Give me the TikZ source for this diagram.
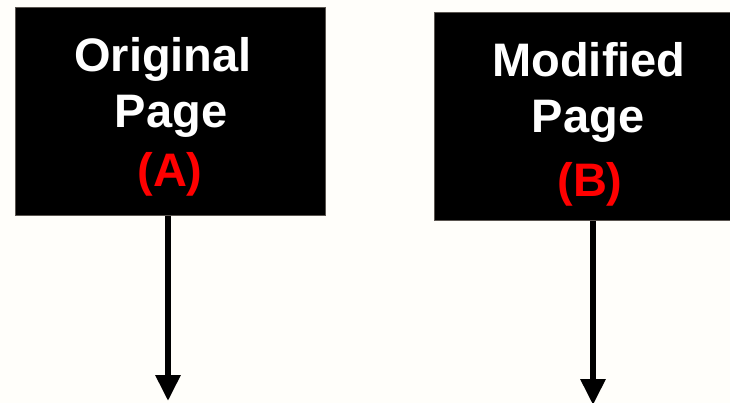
\documentclass[tikz,border=0pt]{standalone}
\usepackage{fontspec}
\setmainfont{Liberation Sans}
\usetikzlibrary{arrows.meta}
\definecolor{bg}{HTML}{FFFEFA}
\definecolor{edge}{HTML}{5A5550}
\tikzset{
  pagebox/.style={fill=black, draw=edge, line width=0.8pt, inner sep=0pt},
  wtext/.style={anchor=base, text=white, font=\fontsize{47}{56}\selectfont\bfseries, inner sep=0pt},
  rtext/.style={anchor=base, text=red, font=\fontsize{47}{56}\selectfont\bfseries, inner sep=0pt},
  flow/.style={line width=6pt, -{Triangle[width=24pt,length=26pt]}}
}
\begin{document}
\begin{tikzpicture}[x=1pt,y=-1pt]
\fill[bg] (0,0) rectangle (730,403);
\useasboundingbox (0,0) rectangle (730,403);
% boxes
\node[pagebox, minimum width=310pt, minimum height=208pt, anchor=north west] (boxA) at (15,7) {};
\node[pagebox, minimum width=296pt, minimum height=208pt, anchor=north west] (boxB) at (434,12) {};
% texts A
\node[wtext] (a1) at (163,72) {Original};
\node[wtext] (a2) at (171,128) {Page};
\node[rtext] (a3) at (170,187) {(A)};
% texts B
\node[wtext] (b1) at (589,77) {Modified};
\node[wtext] (b2) at (588,133) {Page};
\node[rtext] (b3) at (590,197) {(B)};
% arrows
\coordinate (endA) at (168,401);
\coordinate (endB) at (593,405);
\draw[flow] (boxA.south -| endA) -- (endA);
\draw[flow] (boxB.south -| endB) -- (endB);
\end{tikzpicture}
\end{document}
